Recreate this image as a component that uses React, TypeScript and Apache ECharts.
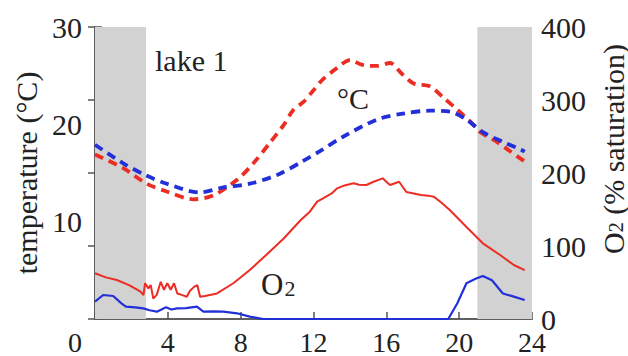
import React, { useEffect, useRef } from "react";
import * as echarts from "echarts";

// Time of day (h) and values
const hourTicks = [0, 4, 8, 12, 16, 20, 24];
const nightPeriods: [number, number][] = [[0, 2.8], [21, 24]];

const tempSurfT = [0, 1.55, 2.84, 3.94, 5.4, 6.5, 7.8, 8.7, 9.6, 10.35, 10.9, 11.45, 12.0, 12.5, 13.3, 14.0, 14.7, 15.5, 16.2, 16.85, 17.5, 18.4, 19.1, 19.9, 20.6, 21.15, 21.9, 22.6, 23.35, 23.6];
const tempSurfV = [16.9, 15.5, 13.9, 13.1, 12.3, 12.7, 14.3, 16.0, 18.1, 19.9, 21.5, 22.3, 23.5, 24.6, 25.8, 26.6, 26.1, 26.0, 26.3, 25.2, 24.2, 23.9, 22.8, 21.5, 20.3, 19.2, 18.4, 17.5, 16.5, 16.2];

const tempDeepT = [0, 1.55, 2.75, 3.94, 5.77, 7.0, 8.5, 10.0, 11.4, 12.4, 13.6, 15.5, 16.9, 18.4, 19.5, 20.4, 21.3, 22.4, 23.4, 23.6];
const tempDeepV = [17.9, 16.0, 14.8, 13.9, 13.0, 13.5, 13.9, 14.8, 16.2, 17.3, 18.7, 20.5, 21.1, 21.4, 21.3, 20.5, 19.2, 18.2, 17.4, 17.2];

const o2SurfT = [0, 0.6, 1.2, 1.9, 2.5, 2.66, 2.75, 2.93, 3.06, 3.2, 3.39, 3.61, 3.79, 3.97, 4.16, 4.34, 4.52, 4.76, 5.04, 5.22, 5.44, 5.62, 5.77, 6.04, 6.7, 7.6, 8.5, 9.4, 10.35, 11.3, 11.8, 12.2, 12.5, 13.0, 13.3, 13.7, 14.2, 14.5, 14.9, 15.3, 15.8, 16.0, 16.2, 16.7, 17.1, 17.5, 17.9, 18.3, 18.6, 19.0, 19.5, 20.4, 21.3, 22.25, 23.0, 23.6];
const o2SurfV = [62.6, 57, 53.4, 46, 37.4, 32.8, 49, 42, 46.5, 28, 33, 51, 40, 49, 40, 49, 35, 33, 30.5, 38.8, 44, 46.5, 30.5, 31.5, 35, 49, 67, 87.7, 110, 135.6, 147, 160.7, 165, 172, 179, 183, 186, 184, 183.6, 188, 192.7, 188, 183.6, 188, 174, 172, 170, 169, 167.6, 160, 149, 126, 103.7, 87.7, 74, 67];

const o2DeepT = [0, 0.45, 1.0, 1.45, 1.7, 2.2, 2.65, 3.0, 3.4, 3.9, 4.2, 4.5, 5.0, 5.6, 5.95, 6.5, 7.05, 7.8, 8.5, 9.25, 12, 16, 19.4, 19.9, 20.4, 20.9, 21.3, 21.8, 22.4, 23.0, 23.6];
const o2DeepV = [23.7, 32.9, 31.5, 21.5, 16.9, 16, 14.6, 12, 10, 16, 13, 14.6, 15, 16.9, 10, 10.5, 10, 7.8, 3.2, 0, 0, 0, 0, 21.5, 49, 55, 59, 53, 35, 30.6, 26];

const RED = "#ec2d24";
const BLUE = "#2130d8";
const AXIS = "#555";
const TXT = "#222";
const FONT = "'Liberation Serif', 'Times New Roman', serif";
const FS = 30;
const XFS = 28;

const pairs = (t: number[], v: number[]) => t.map((x, i) => [x, v[i]]);

export default function App() {
  const ref = useRef<HTMLDivElement>(null);
  useEffect(() => {
    if (!ref.current) return;
    document.body.style.margin = "0";
    const chart = echarts.init(ref.current, undefined, { renderer: "svg", width: 628, height: 356 });
    const tickStyle = { show: true, inside: true, length: 7, lineStyle: { color: AXIS, width: 1.5 } };
    chart.setOption({
      animation: false,
      textStyle: { fontFamily: FONT, color: TXT },
      grid: { left: 95, right: 96, top: 27, bottom: 37, containLabel: false, outerBoundsMode: "none" },
      xAxis: [
        {
          type: "value",
          min: hourTicks[0],
          max: hourTicks[hourTicks.length - 1],
          interval: 4,
          splitLine: { show: false },
          axisLine: { show: true, lineStyle: { color: AXIS, width: 1.5 } },
          axisTick: tickStyle,
          axisLabel: {
            fontSize: XFS,
            fontFamily: FONT,
            color: TXT,
            margin: 9,
            lineHeight: 28,
            formatter: (v: number) => (v === 0 ? "{z|0}" : String(v)),
            rich: { z: { fontSize: XFS, fontFamily: FONT, color: TXT, lineHeight: 28, padding: [0, 40, 0, 0] } },
          },
        },
        {
          type: "value",
          position: "top",
          min: 0,
          max: 24,
          splitLine: { show: false },
          axisLine: { show: true, lineStyle: { color: AXIS, width: 1.5 } },
          axisTick: { show: false },
          axisLabel: { show: false },
        },
      ],
      yAxis: [
        {
          type: "value",
          min: 0,
          max: 30,
          interval: 10,
          name: "temperature (°C)",
          nameLocation: "middle",
          nameGap: 52,
          nameRotate: 90,
          nameTextStyle: { fontSize: FS, fontFamily: FONT, color: TXT },
          splitLine: { show: false },
          axisLine: { show: true, lineStyle: { color: AXIS, width: 1.5 } },
          axisTick: tickStyle,
          axisLabel: {
            fontSize: FS,
            fontFamily: FONT,
            color: TXT,
            margin: 13,
            lineHeight: 22,
            formatter: (v: number) => (v === 0 ? "" : String(v)),
          },
        },
        {
          type: "value",
          position: "right",
          min: 0,
          max: 400,
          interval: 100,
          name: "{o|O}{s|2}{o| (% saturation)}",
          nameLocation: "middle",
          nameGap: 66,
          nameRotate: 90,
          nameTextStyle: {
            fontSize: FS,
            fontFamily: FONT,
            color: TXT,
            padding: [0, 0, 0, 48],
            rich: {
              o: { fontSize: FS, fontFamily: FONT, color: TXT, lineHeight: 28, verticalAlign: "top" },
              s: { fontSize: 20, fontFamily: FONT, color: TXT, lineHeight: 20, verticalAlign: "bottom" },
            },
          },
          splitLine: { show: false },
          axisLine: { show: true, lineStyle: { color: AXIS, width: 1.5 } },
          axisTick: tickStyle,
          axisLabel: { fontSize: FS, fontFamily: FONT, color: TXT, margin: 9, lineHeight: 22 },
        },
      ],
      graphic: [
        {
          type: "text",
          x: 155,
          y: 60,
          z: 10,
          style: { text: "lake 1", font: `${FS}px ${FONT}`, fill: TXT, textAlign: "left", textVerticalAlign: "middle" },
        },
        {
          type: "text",
          x: 353,
          y: 98,
          z: 10,
          style: { text: "°C", font: `${FS}px ${FONT}`, fill: TXT, textAlign: "center", textVerticalAlign: "middle" },
        },
        {
          type: "text",
          x: 261,
          y: 284,
          z: 10,
          style: {
            text: "{o|O}{s|2}",
            fill: TXT,
            textAlign: "left",
            textVerticalAlign: "middle",
            rich: {
              o: { fontSize: 31, fontFamily: FONT, fill: TXT, lineHeight: 31, verticalAlign: "top" },
              s: { fontSize: 22, fontFamily: FONT, fill: TXT, lineHeight: 22, verticalAlign: "bottom", padding: [0, 0, 0, 1] },
            },
          },
        },
      ],
      series: [
        {
          type: "line",
          data: [],
          z: 1,
          silent: true,
          markArea: {
            silent: true,
            itemStyle: { color: "#d2d2d2" },
            data: nightPeriods.map(([a, b]) => [{ xAxis: a }, { xAxis: b }]),
          },
        },
        {
          name: "temp surface",
          type: "line",
          z: 3,
          yAxisIndex: 0,
          showSymbol: false,
          smooth: 0.3,
          data: pairs(tempSurfT, tempSurfV),
          lineStyle: { color: RED, width: 3.8, type: [9, 6] },
        },
        {
          name: "temp deep",
          type: "line",
          z: 3,
          yAxisIndex: 0,
          showSymbol: false,
          smooth: 0.3,
          data: pairs(tempDeepT, tempDeepV),
          lineStyle: { color: BLUE, width: 3.8, type: [9, 6] },
        },
        {
          name: "O2 surface",
          type: "line",
          z: 3,
          yAxisIndex: 1,
          showSymbol: false,
          data: pairs(o2SurfT, o2SurfV),
          lineStyle: { color: RED, width: 2 },
        },
        {
          name: "O2 deep",
          type: "line",
          z: 3,
          yAxisIndex: 1,
          showSymbol: false,
          data: pairs(o2DeepT, o2DeepV),
          lineStyle: { color: BLUE, width: 2.2 },
        },
      ],
    });
    return () => chart.dispose();
  }, []);
  return <div ref={ref} style={{ width: 628, height: 356, background: "#fff" }} />;
}
